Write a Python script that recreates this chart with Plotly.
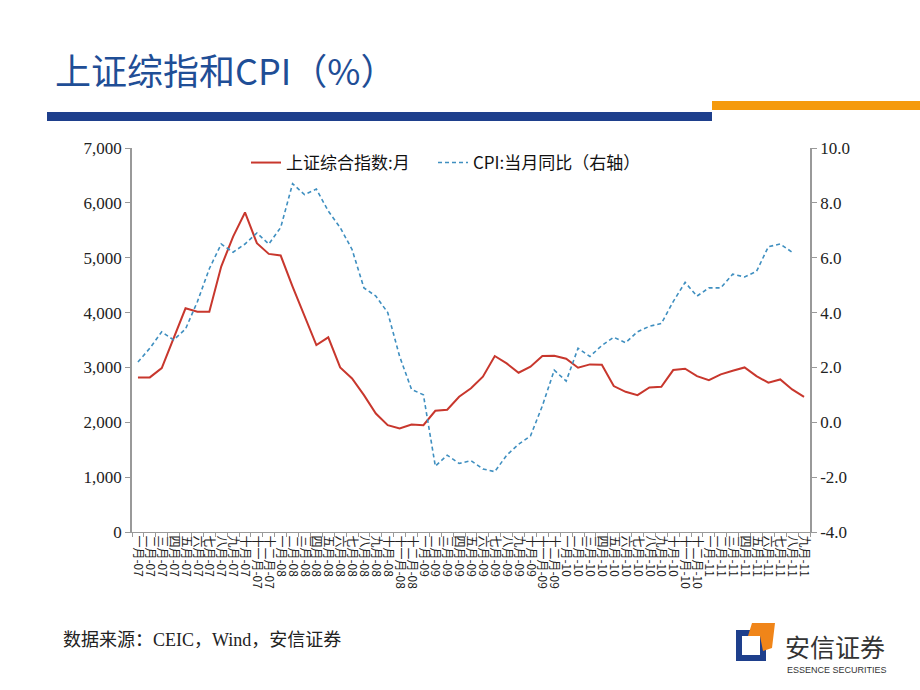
import plotly.graph_objects as go

cn_months = ["一月", "二月", "三月", "四月", "五月", "六月", "七月", "八月", "九月", "十月", "十一月", "十二月"]
years = ["07", "08", "09", "10", "11"]
months = [f"{m}-{y}" for y in years for m in cn_months][:57]

sse = [2818, 2818, 2988, 3530, 4078, 4017, 4017, 4839, 5386, 5825, 5265, 5070,
       5040, 4474, 3926, 3408, 3548, 3000, 2800, 2495, 2160, 1948, 1887, 1960,
       1948, 2209, 2230, 2465, 2620, 2830, 3208, 3074, 2903, 3013, 3208, 3214,
       3159, 2995, 3055, 3049, 2660, 2556, 2495, 2635, 2648, 2952, 2976, 2842,
       2769, 2873, 2940, 3000, 2842, 2721, 2781, 2599, 2465]

cpi = [2.2, 2.7, 3.3, 3.0, 3.4, 4.4, 5.6, 6.5, 6.2, 6.5, 6.9, 6.5,
       7.1, 8.7, 8.3, 8.5, 7.7, 7.1, 6.3, 4.9, 4.6, 4.0, 2.4, 1.2,
       1.0, -1.6, -1.2, -1.5, -1.4, -1.7, -1.8, -1.2, -0.8, -0.5, 0.6, 1.9,
       1.5, 2.7, 2.4, 2.8, 3.1, 2.9, 3.3, 3.5, 3.6, 4.4, 5.1, 4.6,
       4.9, 4.9, 5.4, 5.3, 5.5, 6.4, 6.5, 6.2]

left_ticks = [0, 1000, 2000, 3000, 4000, 5000, 6000, 7000]
left_labels = ["0", "1,000", "2,000", "3,000", "4,000", "5,000", "6,000", "7,000"]
right_ticks = [-4, -2, 0, 2, 4, 6, 8, 10]
right_labels = ["-4.0", "-2.0", "0.0", "2.0", "4.0", "6.0", "8.0", "10.0"]

CJK = "Noto Sans CJK SC"
SERIF = "Liberation Serif"

fig = go.Figure()
fig.add_trace(go.Scatter(x=months, y=sse, mode="lines", name="上证综合指数:月",
                         line=dict(color="#C8372D", width=2), legend="legend"))
fig.add_trace(go.Scatter(x=months[:len(cpi)], y=cpi, mode="lines", name="CPI:当月同比（右轴）",
                         yaxis="y2", line=dict(color="#3F8FC0", width=1.6, dash="4px,3px"),
                         legend="legend2"))

L, R, T, B = 132, 810, 148, 532
W, H = 920, 690
pw, ph = R - L, B - T


def px(x):
    return (x - L) / pw


def py(y):
    return (B - y) / ph


legend_common = dict(orientation="h", yanchor="top", xanchor="left",
                     font=dict(family=CJK, size=17, color="#111"),
                     bgcolor="rgba(0,0,0,0)", itemwidth=30)

fig.update_layout(
    width=W, height=H,
    margin=dict(l=L, r=W - R, t=T, b=H - B, pad=0),
    paper_bgcolor="white", plot_bgcolor="white",
    showlegend=True,
    legend=dict(x=px(246), y=py(145), **legend_common),
    legend2=dict(x=px(433), y=py(145), **legend_common),
    xaxis=dict(type="category", range=[-0.5, 56.5], tickson="boundaries",
               tickmode="array", tickvals=months, ticktext=months,
               ticks="outside", ticklen=4, tickcolor="#999", showline=True,
               linecolor="#999", linewidth=1, showgrid=False, tickangle=90,
               tickfont=dict(family=CJK, size=12, color="#222")),
    yaxis=dict(range=[0, 7000], tickvals=left_ticks, ticktext=left_labels,
               ticks="outside", ticklen=5, tickcolor="#999", showline=True,
               linecolor="#999", linewidth=1.5, showgrid=False, zeroline=False,
               tickfont=dict(family=SERIF, size=17, color="#222")),
    yaxis2=dict(range=[-4, 10], tickvals=right_ticks, ticktext=right_labels, overlaying="y",
                side="right", ticks="outside", ticklen=5, tickcolor="#999",
                showline=True, linecolor="#999", linewidth=1.5, showgrid=False,
                zeroline=False, tickfont=dict(family=SERIF, size=17, color="#222")),
)

shapes = [
    dict(type="rect", xref="paper", yref="paper", x0=px(47), x1=px(712), y0=py(121), y1=py(112),
         fillcolor="#1E3F8C", line=dict(width=0), layer="above"),
    dict(type="rect", xref="paper", yref="paper", x0=px(712), x1=px(920), y0=py(110), y1=py(101),
         fillcolor="#F59A0C", line=dict(width=0), layer="above"),
    # logo
    dict(type="rect", xref="paper", yref="paper", x0=px(736), x1=px(766), y0=py(661), y1=py(630),
         fillcolor="#1E3F8C", line=dict(width=0), layer="above"),
    dict(type="rect", xref="paper", yref="paper", x0=px(742), x1=px(760), y0=py(655), y1=py(636),
         fillcolor="white", line=dict(width=0), layer="above"),
    dict(type="path", xref="paper", yref="paper",
         path=f"M {px(748)},{py(636)} L {px(752)},{py(623)} L {px(775)},{py(623)} L {px(772)},{py(648)} L {px(763)},{py(651)} L {px(760)},{py(636)} Z",
         fillcolor="#F08519", line=dict(width=0), layer="above"),
]

annotations = [
    dict(text="上证综指和CPI（%）", xref="paper", yref="paper", x=px(53), y=py(69),
         xanchor="left", yanchor="middle", showarrow=False,
         font=dict(family=CJK, size=36, color="#1F4E96")),
    dict(text="数据来源：CEIC，Wind，安信证券", xref="paper", yref="paper", x=px(61), y=py(640),
         xanchor="left", yanchor="middle", showarrow=False,
         font=dict(family=SERIF + ", " + CJK, size=18, color="#222")),
    dict(text="安信证券", xref="paper", yref="paper", x=px(783), y=py(646),
         xanchor="left", yanchor="middle", showarrow=False,
         font=dict(family=CJK, size=25, color="#333")),
    dict(text="ESSENCE SECURITIES", xref="paper", yref="paper", x=px(785), y=py(670),
         xanchor="left", yanchor="middle", showarrow=False,
         font=dict(family="Liberation Sans Narrow, Liberation Sans", size=9, color="#333")),
]

fig.update_layout(shapes=shapes, annotations=annotations)
fig.write_html("out.html")
